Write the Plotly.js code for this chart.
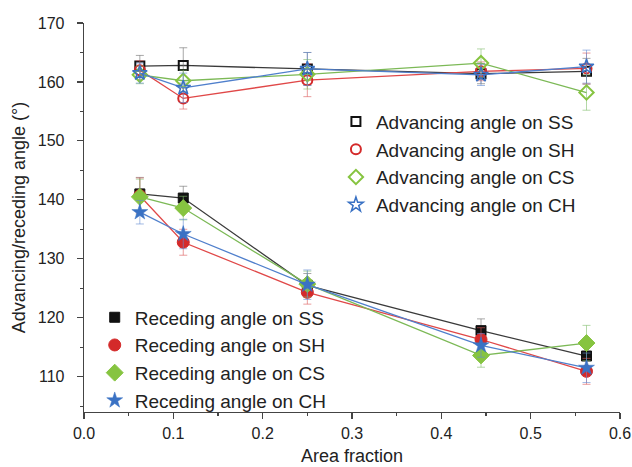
<!DOCTYPE html>
<html><head><meta charset="utf-8">
<script src="https://cdn.plot.ly/plotly-3.0.1.min.js"></script>
<style>body{margin:0;background:#fff}#plot{width:632px;height:467px}</style>
</head><body><div id="plot"></div>
<script>
// Area fraction values (1/16, 1/9, 1/4, 4/9, 9/16)
const areaFraction = [0.0625, 0.1111, 0.25, 0.4444, 0.5625];

const advSS = [162.7, 162.8, 162.2, 161.4, 161.8];
const advSH = [162.0, 157.2, 160.3, 161.8, 162.3];
const advCS = [161.2, 160.2, 161.3, 163.2, 158.2];
const advCH = [161.5, 159.0, 162.2, 161.2, 162.6];
const advSSerr = [1.8, 3.0, 2.8, 1.7, 2.2];
const advSHerr = [1.6, 1.8, 2.8, 1.6, 2.6];
const advCSerr = [1.5, 1.8, 2.5, 2.4, 3.0];
const advCHerr = [1.7, 2.5, 2.8, 1.8, 2.8];

const recSS = [141.0, 140.3, 125.5, 117.8, 113.5];
const recSH = [140.7, 132.8, 124.3, 116.3, 110.9];
const recCS = [140.5, 138.6, 125.7, 113.6, 115.7];
const recCH = [137.9, 134.2, 125.6, 115.3, 111.5];
const recSSerr = [2.8, 2.0, 2.0, 2.0, 2.0];
const recSHerr = [3.0, 2.2, 2.0, 2.0, 2.2];
const recCSerr = [3.0, 2.0, 2.2, 2.0, 3.0];
const recCHerr = [2.0, 2.5, 2.5, 2.0, 2.5];

const advNames = ['Advancing angle on SS','Advancing angle on SH','Advancing angle on CS','Advancing angle on CH'];
const recNames = ['Receding angle on SS','Receding angle on SH','Receding angle on CS','Receding angle on CH'];

const lineColors = ['#3a3a3a','#e04848','#7cb956','#4f7fcc'];
const markColors = ['#111111','#d42a2a','#86c440','#3a72c4'];
const errColors = ['rgba(110,110,110,0.6)','rgba(220,90,90,0.6)','rgba(130,190,110,0.6)','rgba(100,140,210,0.6)'];

const advSeries = [advSS, advSH, advCS, advCH];
const advErr = [advSSerr, advSHerr, advCSerr, advCHerr];
const recSeries = [recSS, recSH, recCS, recCH];
const recErr = [recSSerr, recSHerr, recCSerr, recCHerr];
const advSymbols = ['square-open','circle-open','diamond-open','star-open'];
const recSymbols = ['square','circle','diamond','star'];
const advSizes = [9, 10, 11, 11];
const recSizes = [10, 12, 13, 12];
const advLineW = [2, 2, 2, 1.5];
const recLineW = [1, 1, 1, 0.5];

const traces = [];
function addSeries(ys, errs, name, i, sym, size, lw, legend, grp) {
  traces.push({x: areaFraction, y: ys, mode: 'lines', showlegend: false, hoverinfo: 'skip',
    line: {color: lineColors[i], width: 1.3}});
  traces.push({x: areaFraction, y: ys, mode: 'markers', name: name, legend: legend, legendgroup: grp,
    error_y: {type: 'data', array: errs, visible: true, color: errColors[i], thickness: 1, width: 4},
    marker: {symbol: sym, size: size, color: markColors[i], line: {color: markColors[i], width: lw}}});
}
for (let i = 0; i < 4; i++) addSeries(advSeries[i], advErr[i], advNames[i], i, advSymbols[i], advSizes[i], advLineW[i], 'legend', 'a' + i);
for (let i = 0; i < 4; i++) addSeries(recSeries[i], recErr[i], recNames[i], i, recSymbols[i], recSizes[i], recLineW[i], 'legend2', 'r' + i);

const axisCommon = {showline: true, linecolor: '#444', linewidth: 1.3, ticks: 'outside', ticklen: 6,
  tickcolor: '#444', tickwidth: 1.2, showgrid: false, zeroline: false,
  tickfont: {family: 'Liberation Sans, Arial, sans-serif', size: 16, color: '#222'}};

const layout = {
  width: 632, height: 467,
  margin: {l: 84, r: 12, t: 23, b: 55},
  paper_bgcolor: '#fff', plot_bgcolor: '#fff',
  font: {family: 'Liberation Sans, Arial, sans-serif', size: 16, color: '#222'},
  xaxis: Object.assign({}, axisCommon, {range: [0, 0.6], dtick: 0.1, tickformat: '.1f',
    minor: {dtick: 0.05, ticklen: 3, tickcolor: '#444', ticks: 'outside', showgrid: false},
    title: {text: 'Area fraction', font: {size: 18, color: '#222'}, standoff: 9}}),
  yaxis: Object.assign({}, axisCommon, {range: [104, 170], tick0: 110, dtick: 10, ticklabelstandoff: 9,
    minor: {dtick: 5, tick0: 110, ticklen: 3, tickcolor: '#444', ticks: 'outside', showgrid: false},
    title: {text: 'Advancing/receding angle (°)', font: {size: 18, color: '#222'}, standoff: 7}}),
  legend: {x: 0.47, y: 0.795, xanchor: 'left', yanchor: 'top', bgcolor: 'rgba(0,0,0,0)',
    traceorder: 'grouped', tracegroupgap: 0, itemsizing: 'trace', font: {size: 19, color: '#222'}},
  legend2: {x: 0.02, y: 0.292, xanchor: 'left', yanchor: 'top', bgcolor: 'rgba(0,0,0,0)',
    traceorder: 'grouped', tracegroupgap: 0, itemsizing: 'trace', font: {size: 19, color: '#222'}},
  showlegend: true
};

Plotly.newPlot('plot', traces, layout, {displayModeBar: false, staticPlot: true});
</script></body></html>
